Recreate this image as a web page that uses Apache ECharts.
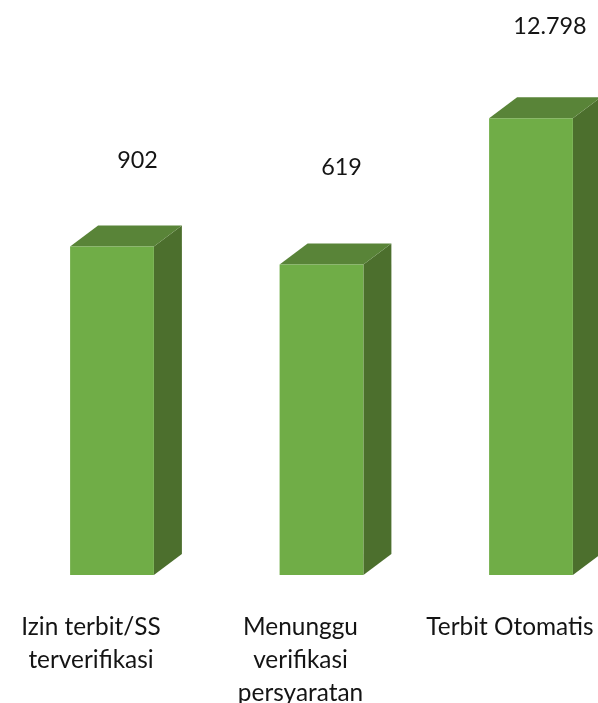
<!DOCTYPE html>
<html><head><meta charset="utf-8">
<style>html,body{margin:0;padding:0;background:#fff;overflow:hidden;width:598px;height:703px}#c{width:660px;height:703px}</style>
<script src="https://cdn.jsdelivr.net/npm/echarts@6/dist/echarts.min.js"></script></head>
<body><div id="c"></div>
<script>
const categories = ['Izin terbit/SS\nterverifikasi', 'Menunggu\nverifikasi\npersyaratan', 'Terbit Otomatis'];
const values = [902, 619, 12798];
const valueLabels = ['902', '619', '12.798'];

// presentation only: where each value label sits relative to its bar top
const labelShiftX = [25.5, 20, 19];
const labelShiftY = [86, 97, 92];
const DEPTH_X = 28, DEPTH_Y = 21;

const chart = echarts.init(document.getElementById('c'), null, {renderer: 'canvas'});
chart.setOption({
  animation: false,
  backgroundColor: '#ffffff',
  grid: {left: 7.25, top: 19, width: 628.5, height: 556, outerBoundsMode: 'none'},
  xAxis: {
    type: 'category', data: categories,
    axisLine: {show: false}, axisTick: {show: false}, splitLine: {show: false},
    axisLabel: {
      interval: 0, margin: 36, color: '#141414', fontFamily: 'Lato', fontSize: 24.4,
      lineHeight: 33, padding: [0, 42, 0, 0], overflow: 'none'
    }
  },
  yAxis: {type: 'log', min: 1, max: 100000, logBase: 10, show: false, splitLine: {show: false}},
  series: [{
    type: 'custom',
    clip: false,
    data: values.map((v, i) => [i, v]),
    encode: {x: 0, y: 1},
    renderItem(params, api) {
      const i = api.value(0);
      const top = api.coord([i, api.value(1)]);
      const base = api.coord([i, 1]);
      const w = api.size([1, 0])[0] * 0.4;
      const x0 = top[0] - w / 2, x1 = top[0] + w / 2;
      const yT = top[1], yB = base[1];
      const poly = (pts, fill) => ({type: 'polygon', shape: {points: pts}, style: {fill}});
      return {type: 'group', children: [
        poly([[x1, yT], [x1 + DEPTH_X, yT - DEPTH_Y], [x1 + DEPTH_X, yB - DEPTH_Y], [x1, yB]], '#4c6f2d'),
        poly([[x0, yT], [x0 + DEPTH_X, yT - DEPTH_Y], [x1 + DEPTH_X, yT - DEPTH_Y], [x1, yT]], '#598438'),
        poly([[x0, yT], [x1, yT], [x1, yB], [x0, yB]], '#70ad47'),
        {type: 'text', style: {
          text: valueLabels[i],
          x: top[0] + labelShiftX[i], y: yT - labelShiftY[i],
          align: 'center', verticalAlign: 'middle',
          fill: '#141414', fontFamily: 'Lato', fontSize: 23.4
        }}
      ]};
    }
  }]
});
</script></body></html>
